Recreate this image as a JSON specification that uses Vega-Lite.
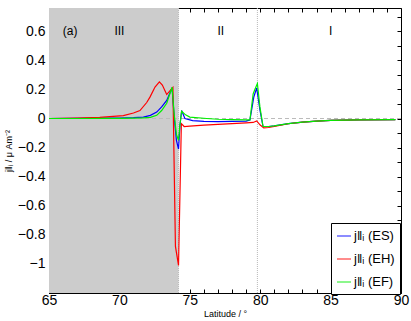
{
  "$schema": "https://vega.github.io/schema/vega-lite/v6.json",
  "width": 352,
  "height": 285,
  "autosize": "none",
  "padding": {"left": 49, "top": 8, "right": 10, "bottom": 28},
  "config": {
    "view": {"stroke": "black", "strokeWidth": 1},
    "font": "Liberation Sans",
    "axis": {"domainColor": "black", "tickColor": "black", "labelColor": "black", "titleColor": "black", "grid": false}
  },
  "resolve": {"axis": {"x": "independent", "y": "independent"}},
  "datasets": {
    "curves": [
      {"lat": 65, "j": 0.0, "series": "j‖ᵢ (ES)"},
      {"lat": 67, "j": 0.001, "series": "j‖ᵢ (ES)"},
      {"lat": 69, "j": 0.002, "series": "j‖ᵢ (ES)"},
      {"lat": 70, "j": 0.003, "series": "j‖ᵢ (ES)"},
      {"lat": 71, "j": 0.006, "series": "j‖ᵢ (ES)"},
      {"lat": 71.7, "j": 0.01, "series": "j‖ᵢ (ES)"},
      {"lat": 72.2, "j": 0.022, "series": "j‖ᵢ (ES)"},
      {"lat": 72.65, "j": 0.044, "series": "j‖ᵢ (ES)"},
      {"lat": 73.0, "j": 0.08, "series": "j‖ᵢ (ES)"},
      {"lat": 73.36, "j": 0.124, "series": "j‖ᵢ (ES)"},
      {"lat": 73.74, "j": 0.21, "series": "j‖ᵢ (ES)"},
      {"lat": 73.9, "j": 0.0, "series": "j‖ᵢ (ES)"},
      {"lat": 74.05, "j": -0.15, "series": "j‖ᵢ (ES)"},
      {"lat": 74.2, "j": -0.21, "series": "j‖ᵢ (ES)"},
      {"lat": 74.3, "j": -0.05, "series": "j‖ᵢ (ES)"},
      {"lat": 74.42, "j": 0.055, "series": "j‖ᵢ (ES)"},
      {"lat": 74.65, "j": 0.0, "series": "j‖ᵢ (ES)"},
      {"lat": 75.2, "j": -0.015, "series": "j‖ᵢ (ES)"},
      {"lat": 76, "j": -0.02, "series": "j‖ᵢ (ES)"},
      {"lat": 77, "j": -0.022, "series": "j‖ᵢ (ES)"},
      {"lat": 78, "j": -0.02, "series": "j‖ᵢ (ES)"},
      {"lat": 79, "j": -0.018, "series": "j‖ᵢ (ES)"},
      {"lat": 79.27, "j": -0.01, "series": "j‖ᵢ (ES)"},
      {"lat": 79.55, "j": 0.15, "series": "j‖ᵢ (ES)"},
      {"lat": 79.75, "j": 0.21, "series": "j‖ᵢ (ES)"},
      {"lat": 79.98, "j": 0.06, "series": "j‖ᵢ (ES)"},
      {"lat": 80.2, "j": -0.055, "series": "j‖ᵢ (ES)"},
      {"lat": 80.6, "j": -0.055, "series": "j‖ᵢ (ES)"},
      {"lat": 81, "j": -0.05, "series": "j‖ᵢ (ES)"},
      {"lat": 82, "j": -0.035, "series": "j‖ᵢ (ES)"},
      {"lat": 83, "j": -0.025, "series": "j‖ᵢ (ES)"},
      {"lat": 84, "j": -0.018, "series": "j‖ᵢ (ES)"},
      {"lat": 85, "j": -0.013, "series": "j‖ᵢ (ES)"},
      {"lat": 87, "j": -0.009, "series": "j‖ᵢ (ES)"},
      {"lat": 89.6, "j": -0.008, "series": "j‖ᵢ (ES)"},

      {"lat": 65, "j": 0.0, "series": "j‖ᵢ (EH)"},
      {"lat": 67, "j": 0.003, "series": "j‖ᵢ (EH)"},
      {"lat": 68.6, "j": 0.008, "series": "j‖ᵢ (EH)"},
      {"lat": 70.28, "j": 0.02, "series": "j‖ᵢ (EH)"},
      {"lat": 71.0, "j": 0.038, "series": "j‖ᵢ (EH)"},
      {"lat": 71.46, "j": 0.055, "series": "j‖ᵢ (EH)"},
      {"lat": 71.94, "j": 0.11, "series": "j‖ᵢ (EH)"},
      {"lat": 72.17, "j": 0.147, "series": "j‖ᵢ (EH)"},
      {"lat": 72.53, "j": 0.216, "series": "j‖ᵢ (EH)"},
      {"lat": 72.84, "j": 0.252, "series": "j‖ᵢ (EH)"},
      {"lat": 73.05, "j": 0.23, "series": "j‖ᵢ (EH)"},
      {"lat": 73.36, "j": 0.165, "series": "j‖ᵢ (EH)"},
      {"lat": 73.8, "j": 0.215, "series": "j‖ᵢ (EH)"},
      {"lat": 73.98, "j": -0.88, "series": "j‖ᵢ (EH)"},
      {"lat": 74.2, "j": -1.01, "series": "j‖ᵢ (EH)"},
      {"lat": 74.4, "j": -0.035, "series": "j‖ᵢ (EH)"},
      {"lat": 74.6, "j": -0.055, "series": "j‖ᵢ (EH)"},
      {"lat": 75, "j": -0.052, "series": "j‖ᵢ (EH)"},
      {"lat": 76, "j": -0.045, "series": "j‖ᵢ (EH)"},
      {"lat": 77, "j": -0.04, "series": "j‖ᵢ (EH)"},
      {"lat": 78, "j": -0.035, "series": "j‖ᵢ (EH)"},
      {"lat": 79, "j": -0.03, "series": "j‖ᵢ (EH)"},
      {"lat": 79.5, "j": -0.027, "series": "j‖ᵢ (EH)"},
      {"lat": 79.75, "j": -0.017, "series": "j‖ᵢ (EH)"},
      {"lat": 80.0, "j": -0.045, "series": "j‖ᵢ (EH)"},
      {"lat": 80.25, "j": -0.065, "series": "j‖ᵢ (EH)"},
      {"lat": 80.6, "j": -0.062, "series": "j‖ᵢ (EH)"},
      {"lat": 81, "j": -0.055, "series": "j‖ᵢ (EH)"},
      {"lat": 82, "j": -0.036, "series": "j‖ᵢ (EH)"},
      {"lat": 83, "j": -0.025, "series": "j‖ᵢ (EH)"},
      {"lat": 84, "j": -0.018, "series": "j‖ᵢ (EH)"},
      {"lat": 85, "j": -0.013, "series": "j‖ᵢ (EH)"},
      {"lat": 87, "j": -0.009, "series": "j‖ᵢ (EH)"},
      {"lat": 89.6, "j": -0.008, "series": "j‖ᵢ (EH)"},

      {"lat": 65, "j": 0.0, "series": "j‖ᵢ (EF)"},
      {"lat": 67, "j": 0.0, "series": "j‖ᵢ (EF)"},
      {"lat": 69, "j": 0.001, "series": "j‖ᵢ (EF)"},
      {"lat": 70, "j": 0.001, "series": "j‖ᵢ (EF)"},
      {"lat": 71, "j": 0.002, "series": "j‖ᵢ (EF)"},
      {"lat": 71.7, "j": 0.004, "series": "j‖ᵢ (EF)"},
      {"lat": 72.2, "j": 0.008, "series": "j‖ᵢ (EF)"},
      {"lat": 72.65, "j": 0.022, "series": "j‖ᵢ (EF)"},
      {"lat": 73.0, "j": 0.055, "series": "j‖ᵢ (EF)"},
      {"lat": 73.36, "j": 0.105, "series": "j‖ᵢ (EF)"},
      {"lat": 73.74, "j": 0.215, "series": "j‖ᵢ (EF)"},
      {"lat": 73.9, "j": 0.02, "series": "j‖ᵢ (EF)"},
      {"lat": 74.05, "j": -0.11, "series": "j‖ᵢ (EF)"},
      {"lat": 74.2, "j": -0.15, "series": "j‖ᵢ (EF)"},
      {"lat": 74.3, "j": -0.04, "series": "j‖ᵢ (EF)"},
      {"lat": 74.42, "j": 0.05, "series": "j‖ᵢ (EF)"},
      {"lat": 74.7, "j": 0.025, "series": "j‖ᵢ (EF)"},
      {"lat": 75.0, "j": 0.01, "series": "j‖ᵢ (EF)"},
      {"lat": 76.2, "j": 0.0, "series": "j‖ᵢ (EF)"},
      {"lat": 77, "j": -0.005, "series": "j‖ᵢ (EF)"},
      {"lat": 78, "j": -0.008, "series": "j‖ᵢ (EF)"},
      {"lat": 79, "j": -0.01, "series": "j‖ᵢ (EF)"},
      {"lat": 79.27, "j": -0.01, "series": "j‖ᵢ (EF)"},
      {"lat": 79.5, "j": 0.17, "series": "j‖ᵢ (EF)"},
      {"lat": 79.62, "j": 0.2, "series": "j‖ᵢ (EF)"},
      {"lat": 79.8, "j": 0.24, "series": "j‖ᵢ (EF)"},
      {"lat": 79.98, "j": 0.08, "series": "j‖ᵢ (EF)"},
      {"lat": 80.2, "j": -0.055, "series": "j‖ᵢ (EF)"},
      {"lat": 80.6, "j": -0.055, "series": "j‖ᵢ (EF)"},
      {"lat": 81, "j": -0.05, "series": "j‖ᵢ (EF)"},
      {"lat": 82, "j": -0.035, "series": "j‖ᵢ (EF)"},
      {"lat": 83, "j": -0.025, "series": "j‖ᵢ (EF)"},
      {"lat": 84, "j": -0.018, "series": "j‖ᵢ (EF)"},
      {"lat": 85, "j": -0.013, "series": "j‖ᵢ (EF)"},
      {"lat": 87, "j": -0.009, "series": "j‖ᵢ (EF)"},
      {"lat": 89.6, "j": -0.008, "series": "j‖ᵢ (EF)"}
    ]
  },
  "layer": [
    {
      "data": {"values": [{"from": 65, "to": 74.2}]},
      "mark": {"type": "rect", "fill": "#cccccc"},
      "encoding": {
        "x": {"field": "from", "type": "quantitative", "scale": {"domain": [65, 90], "nice": false, "zero": false},
          "axis": {"orient": "top", "values": [65,66,67,68,69,70,71,72,73,74,75,76,77,78,79,80,81,82,83,84,85,86,87,88,89,90], "labels": false, "tickSize": -4, "title": null, "domain": false}},
        "x2": {"field": "to"}
      }
    },
    {
      "data": {"values": [{"zero": 0}]},
      "mark": {"type": "rule", "stroke": "#bbbbbb", "strokeDash": [4, 3], "strokeWidth": 1},
      "encoding": {
        "y": {"field": "zero", "type": "quantitative", "scale": {"domain": [-1.2, 0.76], "nice": false, "zero": false},
          "axis": {"orient": "right", "values": [-1.2,-1.1,-1,-0.9,-0.8,-0.7,-0.6,-0.5,-0.4,-0.3,-0.2,-0.1,0,0.1,0.2,0.3,0.4,0.5,0.6,0.7], "labels": false, "tickSize": -4, "title": null, "domain": false}}
      }
    },
    {
      "data": {"values": [{"b": 74.2}, {"b": 79.8}]},
      "mark": {"type": "rule", "stroke": "#b8b8b8", "strokeDash": [1, 1], "strokeWidth": 1},
      "encoding": {
        "x": {"field": "b", "type": "quantitative", "axis": null}
      }
    },
    {
      "data": {"name": "curves"},
      "mark": {"type": "line", "strokeWidth": 1.2},
      "encoding": {
        "x": {"field": "lat", "type": "quantitative",
          "axis": {"orient": "bottom", "values": [65,66,67,68,69,70,71,72,73,74,75,76,77,78,79,80,81,82,83,84,85,86,87,88,89,90],
            "labelExpr": "datum.value % 5 == 0 ? datum.label : ''", "tickSize": -4, "labelPadding": 4, "labelFontSize": 14,
            "title": "Latitude / °", "titleFontSize": 9, "titleFontWeight": "normal", "titlePadding": 2, "labelFlush": false, "labelOverlap": false}},
        "y": {"field": "j", "type": "quantitative",
          "axis": {"orient": "left", "values": [-1.2,-1.1,-1,-0.9,-0.8,-0.7,-0.6,-0.5,-0.4,-0.3,-0.2,-0.1,0,0.1,0.2,0.3,0.4,0.5,0.6,0.7],
            "labelExpr": "(abs(round(datum.value*10)) % 2 == 0 && datum.value > -1.15) ? format(datum.value, '~g') : ''",
            "tickSize": -4, "labelPadding": 8, "labelFontSize": 14, "labelOverlap": false, "labelFlush": false,
            "title": "j‖ᵢ / μ Am⁻²", "titleFontSize": 9, "titleFontWeight": "normal", "titlePadding": 4}},
        "color": {"field": "series", "type": "nominal",
          "scale": {"domain": ["j‖ᵢ (ES)", "j‖ᵢ (EH)", "j‖ᵢ (EF)"], "range": ["#0000ff", "#ff0000", "#00ee00"]},
          "legend": {"orient": "none", "legendX": 282, "legendY": 215, "title": null,
            "strokeColor": "black", "fillColor": "white", "padding": 5, "rowPadding": 8,
            "symbolType": "stroke", "symbolSize": 196, "symbolStrokeWidth": 1.5, "symbolOpacity": 0.6,
            "labelFontSize": 13, "labelColor": "black", "labelOffset": 2}}
      }
    },
    {
      "data": {"values": [
        {"lat": 66.5, "j": 0.6, "t": "(a)"},
        {"lat": 70, "j": 0.6, "t": "III"},
        {"lat": 77.2, "j": 0.6, "t": "II"},
        {"lat": 85, "j": 0.6, "t": "I"}
      ]},
      "mark": {"type": "text", "fontSize": 12, "color": "black", "baseline": "middle", "align": "center"},
      "encoding": {
        "x": {"field": "lat", "type": "quantitative", "axis": null},
        "y": {"field": "j", "type": "quantitative", "axis": null},
        "text": {"field": "t"}
      }
    }
  ]
}
